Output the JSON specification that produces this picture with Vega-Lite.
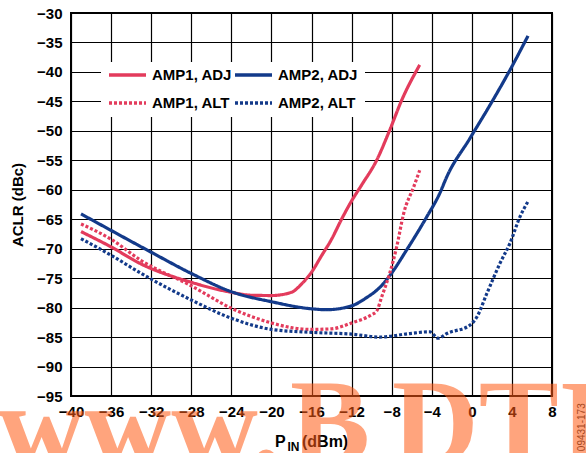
{
  "$schema": "https://vega.github.io/schema/vega-lite/v6.json",
  "width": 481,
  "height": 383,
  "autosize": {"type": "none"},
  "padding": {"left": 71, "top": 13, "right": 34, "bottom": 57},
  "background": "white",
  "config": {
    "view": {"stroke": "black", "strokeWidth": 2},
    "axis": {
      "domain": false, "ticks": false, "tickSize": 0, "grid": true,
      "gridColor": "black", "gridWidth": 1.2, "gridOpacity": 1,
      "labelFont": "Liberation Sans", "labelFontSize": 15, "labelFontWeight": "bold", "labelColor": "black",
      "titleFont": "Liberation Sans", "titleFontSize": 15, "titleFontWeight": "bold", "titleColor": "black",
      "labelFlush": false, "labelOverlap": false, "zindex": 0
    },
    "legend": {
      "orient": "none", "direction": "horizontal", "legendX": 30, "legendY": 49, "columns": 2,
      "fillColor": "white", "padding": 6,
      "symbolType": "stroke", "symbolSize": 1369, "symbolStrokeWidth": 3.5,
      "clipHeight": 14, "rowPadding": 13, "columnPadding": -5, "labelOffset": 4,
      "labelFont": "Liberation Sans", "labelFontSize": 15, "labelFontWeight": "bold", "labelColor": "black"
    }
  },
  "layer": [
    {
      "data": {"values": [
        {"series": "AMP1, ADJ", "x": -39, "y": -67.1},
        {"series": "AMP1, ADJ", "x": -36, "y": -69.7},
        {"series": "AMP1, ADJ", "x": -33, "y": -72.6},
        {"series": "AMP1, ADJ", "x": -28, "y": -75.7},
        {"series": "AMP1, ADJ", "x": -24, "y": -77.4},
        {"series": "AMP1, ADJ", "x": -22, "y": -77.9},
        {"series": "AMP1, ADJ", "x": -20, "y": -77.95},
        {"series": "AMP1, ADJ", "x": -18, "y": -77.4},
        {"series": "AMP1, ADJ", "x": -17, "y": -76.0},
        {"series": "AMP1, ADJ", "x": -16, "y": -74.0},
        {"series": "AMP1, ADJ", "x": -15, "y": -71.2},
        {"series": "AMP1, ADJ", "x": -14, "y": -68.4},
        {"series": "AMP1, ADJ", "x": -13, "y": -65.0},
        {"series": "AMP1, ADJ", "x": -12, "y": -61.9},
        {"series": "AMP1, ADJ", "x": -11, "y": -59.2},
        {"series": "AMP1, ADJ", "x": -9.5, "y": -55.0},
        {"series": "AMP1, ADJ", "x": -8.2, "y": -49.9},
        {"series": "AMP1, ADJ", "x": -7.0, "y": -44.8},
        {"series": "AMP1, ADJ", "x": -5.2, "y": -38.8},

        {"series": "AMP2, ADJ", "x": -39, "y": -64.1},
        {"series": "AMP2, ADJ", "x": -36, "y": -66.9},
        {"series": "AMP2, ADJ", "x": -32, "y": -70.6},
        {"series": "AMP2, ADJ", "x": -28, "y": -74.2},
        {"series": "AMP2, ADJ", "x": -24, "y": -77.3},
        {"series": "AMP2, ADJ", "x": -20, "y": -79.0},
        {"series": "AMP2, ADJ", "x": -16, "y": -80.2},
        {"series": "AMP2, ADJ", "x": -14.5, "y": -80.35},
        {"series": "AMP2, ADJ", "x": -12, "y": -79.7},
        {"series": "AMP2, ADJ", "x": -10.5, "y": -78.3},
        {"series": "AMP2, ADJ", "x": -9.2, "y": -76.6},
        {"series": "AMP2, ADJ", "x": -8.2, "y": -74.6},
        {"series": "AMP2, ADJ", "x": -6.5, "y": -70.2},
        {"series": "AMP2, ADJ", "x": -4.5, "y": -64.6},
        {"series": "AMP2, ADJ", "x": -3.2, "y": -60.6},
        {"series": "AMP2, ADJ", "x": -2.5, "y": -57.8},
        {"series": "AMP2, ADJ", "x": -0.2, "y": -51.3},
        {"series": "AMP2, ADJ", "x": 2.1, "y": -44.8},
        {"series": "AMP2, ADJ", "x": 3.8, "y": -39.7},
        {"series": "AMP2, ADJ", "x": 5.6, "y": -33.9},

        {"series": "AMP1, ALT", "x": -39, "y": -65.8},
        {"series": "AMP1, ALT", "x": -36, "y": -68.4},
        {"series": "AMP1, ALT", "x": -33, "y": -72.0},
        {"series": "AMP1, ALT", "x": -28, "y": -76.3},
        {"series": "AMP1, ALT", "x": -24, "y": -80.1},
        {"series": "AMP1, ALT", "x": -20, "y": -82.6},
        {"series": "AMP1, ALT", "x": -18, "y": -83.4},
        {"series": "AMP1, ALT", "x": -16, "y": -83.7},
        {"series": "AMP1, ALT", "x": -14, "y": -83.6},
        {"series": "AMP1, ALT", "x": -12, "y": -82.6},
        {"series": "AMP1, ALT", "x": -10, "y": -81.2},
        {"series": "AMP1, ALT", "x": -9.5, "y": -80.6},
        {"series": "AMP1, ALT", "x": -9.0, "y": -78.2},
        {"series": "AMP1, ALT", "x": -8.2, "y": -74.2},
        {"series": "AMP1, ALT", "x": -7.5, "y": -69.7},
        {"series": "AMP1, ALT", "x": -6.8, "y": -64.0},
        {"series": "AMP1, ALT", "x": -5.8, "y": -59.5},
        {"series": "AMP1, ALT", "x": -5.2, "y": -56.7},

        {"series": "AMP2, ALT", "x": -39, "y": -68.3},
        {"series": "AMP2, ALT", "x": -36, "y": -71.1},
        {"series": "AMP2, ALT", "x": -33, "y": -74.2},
        {"series": "AMP2, ALT", "x": -28, "y": -78.7},
        {"series": "AMP2, ALT", "x": -24, "y": -81.8},
        {"series": "AMP2, ALT", "x": -20, "y": -83.7},
        {"series": "AMP2, ALT", "x": -16, "y": -84.2},
        {"series": "AMP2, ALT", "x": -12, "y": -84.5},
        {"series": "AMP2, ALT", "x": -9.2, "y": -85.0},
        {"series": "AMP2, ALT", "x": -6.2, "y": -84.4},
        {"series": "AMP2, ALT", "x": -4.2, "y": -84.1},
        {"series": "AMP2, ALT", "x": -3.35, "y": -85.2},
        {"series": "AMP2, ALT", "x": -2.5, "y": -84.4},
        {"series": "AMP2, ALT", "x": -0.2, "y": -83.0},
        {"series": "AMP2, ALT", "x": 0.5, "y": -81.6},
        {"series": "AMP2, ALT", "x": 1.5, "y": -77.6},
        {"series": "AMP2, ALT", "x": 2.8, "y": -72.5},
        {"series": "AMP2, ALT", "x": 3.8, "y": -69.1},
        {"series": "AMP2, ALT", "x": 4.8, "y": -64.6},
        {"series": "AMP2, ALT", "x": 5.6, "y": -62.0}
      ]},
      "mark": {"type": "line", "interpolate": "monotone", "strokeWidth": 3.2, "strokeCap": "butt"},
      "encoding": {
        "x": {
          "field": "x", "type": "quantitative",
          "scale": {"domain": [-40, 8], "nice": false, "zero": false},
          "axis": {
            "values": [-40, -36, -32, -28, -24, -20, -16, -12, -8, -4, 0, 4, 8],
            "tickCount": 30,
            "title": null, "labelPadding": 8, "labelOverlap": false, "labelBound": false,
            "labelExpr": "datum.value < 0 ? datum.label + '  ' : datum.label"
          }
        },
        "y": {
          "field": "y", "type": "quantitative",
          "scale": {"domain": [-95, -30], "nice": false, "zero": false},
          "axis": {
            "values": [-95, -90, -85, -80, -75, -70, -65, -60, -55, -50, -45, -40, -35, -30],
            "tickCount": 30,
            "title": "ACLR (dBc)", "labelPadding": 9, "titlePadding": 11,
            "labelOverlap": false, "labelBound": false
          }
        },
        "color": {
          "field": "series", "type": "nominal",
          "scale": {"domain": ["AMP1, ADJ", "AMP2, ADJ", "AMP1, ALT", "AMP2, ALT"],
                    "range": ["#E33B5C", "#133A8A", "#E33B5C", "#133A8A"]},
          "legend": {"title": null}
        },
        "strokeDash": {
          "field": "series", "type": "nominal",
          "scale": {"domain": ["AMP1, ADJ", "AMP2, ADJ", "AMP1, ALT", "AMP2, ALT"],
                    "range": [[1, 0], [1, 0], [3, 2], [3, 2]]},
          "legend": {"title": null}
        }
      }
    },
    {
      "data": {"values": [{}]},
      "mark": {"type": "text", "text": "P", "align": "left", "baseline": "alphabetic",
               "font": "Liberation Sans", "fontSize": 16, "fontWeight": "bold", "color": "black"},
      "encoding": {"x": {"datum": -19.64, "type": "quantitative"}, "y": {"datum": -103.66, "type": "quantitative"}}
    },
    {
      "data": {"values": [{}]},
      "mark": {"type": "text", "text": "IN", "align": "left", "baseline": "alphabetic",
               "font": "Liberation Sans", "fontSize": 12, "fontWeight": "bold", "color": "black"},
      "encoding": {"x": {"datum": -18.4, "type": "quantitative"}, "y": {"datum": -104.4, "type": "quantitative"}}
    },
    {
      "data": {"values": [{}]},
      "mark": {"type": "text", "text": "(dBm)", "align": "left", "baseline": "alphabetic",
               "font": "Liberation Sans", "fontSize": 16, "fontWeight": "bold", "color": "black"},
      "encoding": {"x": {"datum": -16.95, "type": "quantitative"}, "y": {"datum": -103.66, "type": "quantitative"}}
    },
    {
      "data": {"values": [{}]},
      "mark": {"type": "text", "text": "09431-173", "align": "center", "baseline": "middle", "angle": 270,
               "font": "Liberation Sans", "fontSize": 10, "color": "#333333"},
      "encoding": {"x": {"datum": 10.95, "type": "quantitative"}, "y": {"datum": -100.3, "type": "quantitative"}}
    },
    {
      "data": {"values": [{}]},
      "mark": {"type": "text", "text": "www.", "align": "left", "baseline": "alphabetic",
               "font": "Liberation Serif", "fontSize": 120, "fontWeight": "bold", "color": "#FF5A14", "opacity": 0.55},
      "encoding": {"x": {"datum": -47.29, "type": "quantitative"}, "y": {"datum": -107.05, "type": "quantitative"}}
    },
    {
      "data": {"values": [{}]},
      "mark": {"type": "text", "text": "B", "align": "left", "baseline": "alphabetic",
               "font": "Liberation Serif", "fontSize": 120, "fontWeight": "bold", "color": "#FF5A14", "opacity": 0.55},
      "encoding": {"x": {"datum": -18.15, "type": "quantitative"}, "y": {"datum": -106.37, "type": "quantitative"}}
    },
    {
      "data": {"values": [{}]},
      "mark": {"type": "text", "text": "DTIC", "align": "left", "baseline": "alphabetic",
               "font": "Liberation Serif", "fontSize": 120, "fontWeight": "bold", "color": "#FF5A14", "opacity": 0.55},
      "encoding": {"x": {"datum": -7.96, "type": "quantitative"}, "y": {"datum": -106.37, "type": "quantitative"}}
    }
  ]
}
